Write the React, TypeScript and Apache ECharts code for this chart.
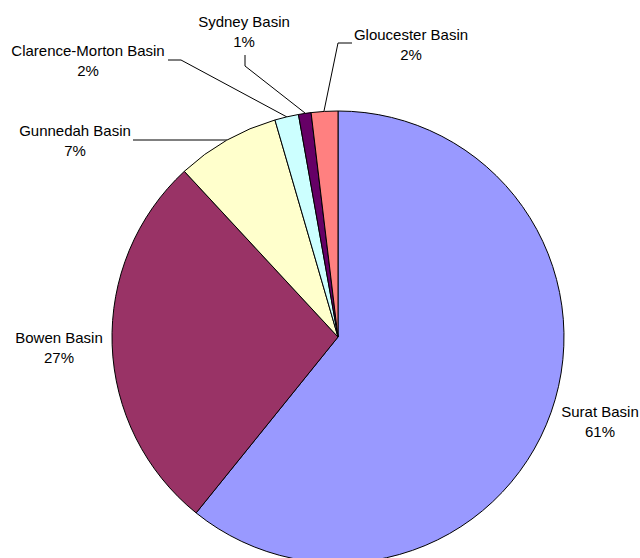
import React, { useEffect, useRef } from "react";
import * as echarts from "echarts";

const categories = [
  "Surat Basin",
  "Bowen Basin",
  "Gunnedah Basin",
  "Clarence-Morton Basin",
  "Sydney Basin",
  "Gloucester Basin",
];
const values = [60.8, 27.3, 7.4, 1.7, 0.9, 1.9];
const colors = ["#9999FF", "#993366", "#FFFFCC", "#CCFFFF", "#660066", "#FF8080"];

// label placements (x, y centre) and leader lines per slice
const labelPos: [number, number][] = [
  [600, 421],
  [59, 347],
  [75, 140],
  [88, 60],
  [244, 31],
  [411, 44],
];
const linePts: (number[][] | null)[] = [
  null,
  null,
  [[227, 140], [180, 140], [133, 140]],
  [[287, 117], [181, 60], [168, 60]],
  [[305, 113], [245, 66], [245, 55]],
  [[324, 111], [338, 43], [352, 43]],
];

export default function App() {
  const ref = useRef<HTMLDivElement>(null);
  useEffect(() => {
    document.body.style.margin = "0";
    const chart = echarts.init(ref.current!, null, { renderer: "svg" });
    chart.setOption({
      animation: false,
      backgroundColor: "#ffffff",
      series: [
        {
          type: "pie",
          center: [338, 337],
          radius: 226,
          startAngle: 90,
          clockwise: true,
          percentPrecision: 0,
          avoidLabelOverlap: false,
          itemStyle: { borderColor: "#000000", borderWidth: 1 },
          label: {
            show: true,
            position: "outside",
            formatter: (p: any) => `${p.name}\n${Math.round(p.percent)}%`,
            fontFamily: "Liberation Sans, Arial, sans-serif",
            fontSize: 15,
            lineHeight: 20,
            color: "#000000",
            align: "center",
          },
          labelLine: {
            show: true,
            lineStyle: { color: "#000000", width: 1 },
          },
          labelLayout: (params: any) => {
            const i = params.dataIndex;
            const res: any = {
              x: labelPos[i][0],
              y: labelPos[i][1],
              align: "center",
              verticalAlign: "middle",
            };
            if (linePts[i]) res.labelLinePoints = linePts[i];
            return res;
          },
          data: categories.map((name, i) => ({
            name,
            value: values[i],
            itemStyle: { color: colors[i] },
            labelLine: { show: linePts[i] !== null },
          })),
        },
      ],
    });
    return () => chart.dispose();
  }, []);
  return <div ref={ref} style={{ width: 640, height: 558 }} />;
}
